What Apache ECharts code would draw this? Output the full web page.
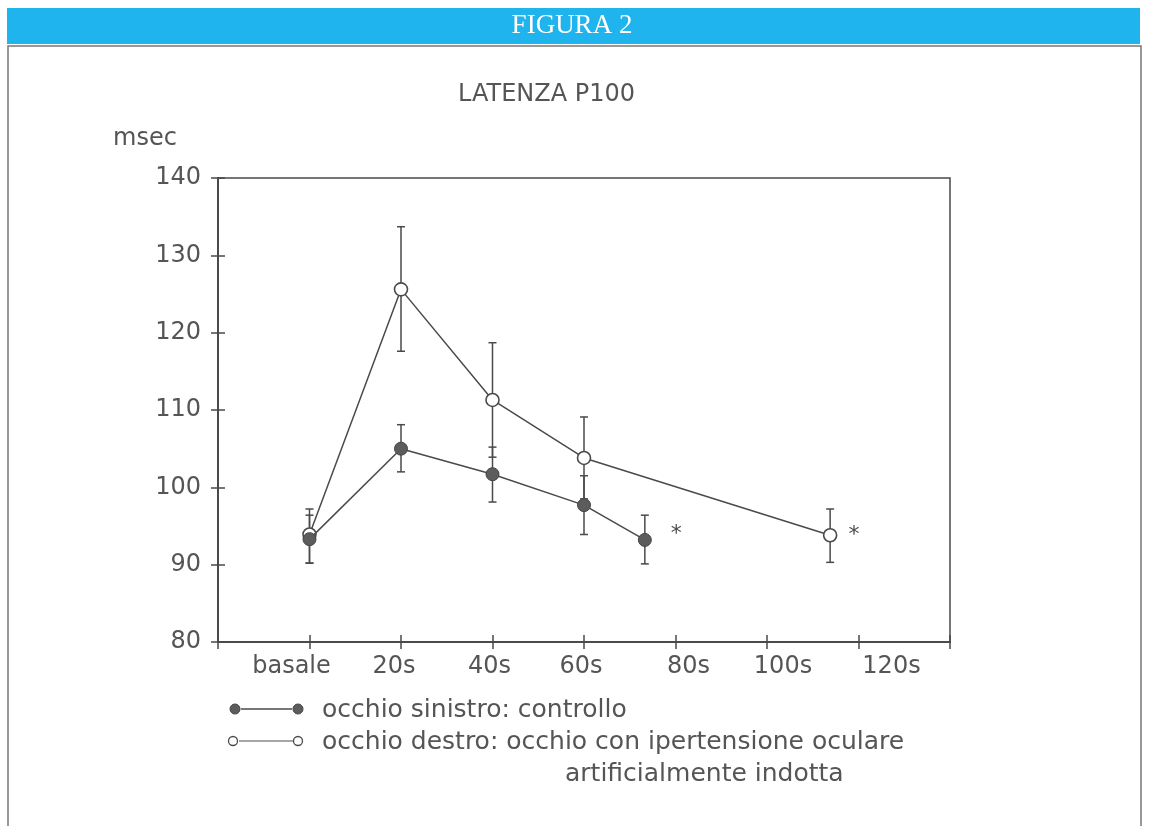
<!DOCTYPE html>
<html><head><meta charset="utf-8">
<script src="https://cdn.jsdelivr.net/npm/echarts@6/dist/echarts.min.js"></script>
<style>html,body{margin:0;padding:0;background:#fff}#c{width:1153px;height:826px}</style>
</head><body><div id="c"></div>
<script>
// ---- data ----
const headerText = 'FIGURA 2';
const titleText = 'LATENZA P100';
const yName = 'msec';
const xTickValues = [0, 20, 40, 60, 80, 100, 120];
const xTickLabels = ['basale', '20s', '40s', '60s', '80s', '100s', '120s'];
// control eye (filled)
const ctrlX  = [0, 20, 40, 60, 73.3];
const ctrlY  = [93.3, 105.0, 101.7, 97.7, 93.2];
const ctrlLo = [90.2, 102.0, 98.1, 93.9, 90.1];
const ctrlHi = [96.4, 108.1, 105.2, 101.5, 96.4];
// hypertensive eye (open)
const hypX  = [0, 20, 40, 60, 113.8];
const hypY  = [93.9, 125.6, 111.3, 103.8, 93.8];
const hypLo = [90.2, 117.6, 103.9, 98.5, 90.3];
const hypHi = [97.2, 133.7, 118.7, 109.1, 97.2];
const legendTexts = ['occhio sinistro: controllo', 'occhio destro: occhio con ipertensione oculare', 'artificialmente indotta'];

// style: horizontal shift (px) of each x tick label, as typeset in the original
const xLabelShift = [-18, -7, -3, -3, 13, 16, 33];

const FONT = 'DejaVu Sans';
const TXT = '#555';
const INK = '#4a4a4a';

function pts(xs, ys, starDist, starOffY){
  return xs.map((x,i)=>{
    const it = {value:[x, ys[i]]};
    if(i === xs.length-1){
      it.label = {show:true, formatter:'*', position:'right', distance:starDist, offset:[0,starOffY], fontSize:22, color:INK, fontFamily:FONT};
    }
    return it;
  });
}
function errData(xs, lo, hi){ return xs.map((x,i)=>[x, lo[i], hi[i]]); }
function errRender(params, api){
  const x = api.value(0);
  const a = api.coord([x, api.value(1)]);
  const b = api.coord([x, api.value(2)]);
  const w = 4;
  const st = {stroke: INK, lineWidth: 1.5};
  return {type:'group', children:[
    {type:'line', shape:{x1:a[0], y1:a[1], x2:b[0], y2:b[1]}, style:st},
    {type:'line', shape:{x1:a[0]-w, y1:a[1], x2:a[0]+w, y2:a[1]}, style:st},
    {type:'line', shape:{x1:b[0]-w, y1:b[1], x2:b[0]+w, y2:b[1]}, style:st}
  ]};
}

const rich = {};
xTickLabels.forEach((t,i)=>{
  const d = xLabelShift[i];
  rich['s'+i] = {fontFamily:FONT, fontSize:24, color:TXT,
    padding: d >= 0 ? [0,0,0,2*d] : [0,-2*d,0,0]};
});

const chart = echarts.init(document.getElementById('c'));
const axisCommon = {
  axisLine:{show:true, onZero:false, lineStyle:{color:INK, width:2}},
  splitLine:{show:false}
};
chart.setOption({
  animation:false,
  title:{text:titleText, left:453, top:78, textStyle:{fontFamily:FONT, fontSize:24, fontWeight:'normal', color:TXT}},
  grid:{left:218, right:203, top:178, bottom:184, show:true, borderColor:INK, borderWidth:1.5, backgroundColor:'transparent'},
  xAxis:[
    Object.assign({type:'value', min:-20, max:140, interval:20,
      axisTick:{show:true, length:7, lineStyle:{color:INK, width:1.5}},
      axisLabel:{margin:13, fontFamily:FONT, fontSize:24, color:TXT, rich:rich,
        formatter:v=>{ const i = xTickValues.indexOf(v); return i < 0 ? '' : '{s'+i+'|'+xTickLabels[i]+'}'; }}}, axisCommon),
    Object.assign({type:'value', min:-20, max:140, interval:20, position:'bottom',
      axisTick:{show:true, inside:true, length:7, lineStyle:{color:INK, width:1.5}},
      axisLabel:{show:false}}, axisCommon)
  ],
  yAxis:[
    Object.assign({type:'value', min:80, max:140, interval:10,
      axisTick:{show:true, length:7, lineStyle:{color:INK, width:1.5}},
      axisLabel:{margin:17, fontFamily:FONT, fontSize:24, color:TXT}}, axisCommon),
    Object.assign({type:'value', min:80, max:140, interval:10, position:'left',
      axisTick:{show:true, inside:true, length:7, lineStyle:{color:INK, width:1.5}},
      axisLabel:{show:false}}, axisCommon)
  ],
  series:[
    {type:'custom', renderItem:errRender, data:errData(hypX, hypLo, hypHi), encode:{x:0, y:[1,2]}, z:1},
    {type:'custom', renderItem:errRender, data:errData(ctrlX, ctrlLo, ctrlHi), encode:{x:0, y:[1,2]}, z:1},
    {type:'line', name:legendTexts[1], data:pts(hypX, hypY, 11, 0), symbol:'circle', symbolSize:13, showAllSymbol:true,
      lineStyle:{color:INK, width:1.5}, itemStyle:{color:'#fff', borderColor:INK, borderWidth:1.6}, z:3},
    {type:'line', name:legendTexts[0], data:pts(ctrlX, ctrlY, 19, -6), symbol:'circle', symbolSize:13, showAllSymbol:true,
      lineStyle:{color:INK, width:1.5}, itemStyle:{color:'#5c5c5c', borderColor:'#444', borderWidth:1}, z:4}
  ],
  graphic:[
    {type:'rect', shape:{x:7, y:8, width:1133, height:36}, style:{fill:'#1fb4ee'}},
    {type:'text', x:572, y:26, style:{text:headerText, fill:'#fff', font:'27px "Liberation Serif"', textAlign:'center', textVerticalAlign:'middle'}},
    {type:'polyline', shape:{points:[[8,826],[8,46],[1141,46],[1141,826]]}, style:{stroke:'#777', lineWidth:1.5, fill:null}},
    {type:'text', x:113, y:139, style:{text:yName, fill:TXT, font:'24px "DejaVu Sans"', textVerticalAlign:'middle'}},
    // legend row 1
    {type:'line', shape:{x1:241, y1:709, x2:292, y2:709}, style:{stroke:INK, lineWidth:1.5}},
    {type:'circle', shape:{cx:235, cy:709, r:5}, style:{fill:'#5c5c5c', stroke:'#444', lineWidth:1}},
    {type:'circle', shape:{cx:298, cy:709, r:5}, style:{fill:'#5c5c5c', stroke:'#444', lineWidth:1}},
    {type:'text', x:322, y:710, style:{text:legendTexts[0], fill:TXT, font:'25px "DejaVu Sans"', textVerticalAlign:'middle'}},
    // legend row 2
    {type:'line', shape:{x1:239, y1:741, x2:293, y2:741}, style:{stroke:'#888', lineWidth:1.5}},
    {type:'circle', shape:{cx:233, cy:741, r:4.5}, style:{fill:'#fff', stroke:INK, lineWidth:1.3}},
    {type:'circle', shape:{cx:298, cy:741, r:4.5}, style:{fill:'#fff', stroke:INK, lineWidth:1.3}},
    {type:'text', x:322, y:742, style:{text:legendTexts[1], fill:TXT, font:'25px "DejaVu Sans"', textVerticalAlign:'middle'}},
    {type:'text', x:565, y:774, style:{text:legendTexts[2], fill:TXT, font:'25px "DejaVu Sans"', textVerticalAlign:'middle'}}
  ]
});
</script></body></html>
